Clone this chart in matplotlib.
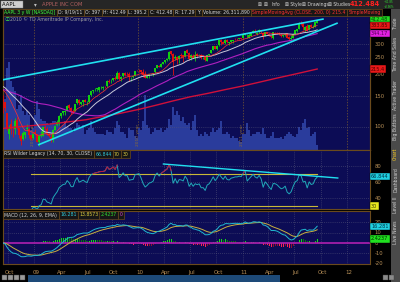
import matplotlib
matplotlib.use("Agg")
import matplotlib.pyplot as plt
import matplotlib.dates as mdates
import matplotlib.transforms as mtrans
import numpy as np
import pandas as pd

plt.rcParams['font.family'] = ['DejaVu Sans', 'Noto Sans CJK SC']

# ---------------- data (weekly bars, AAPL) ----------------
week_start = "2008-09-15"
# weekly closes before the first shown bar (used only by the moving averages)
prior_closes = [170.4, 184.7, 187.9, 165.4, 166.4, 171.5, 182.2, 194.3, 190.4, 193.9, 199.8,
                180.1, 172.7, 161.4, 130.0, 133.8, 125.5, 124.6, 119.5, 125.0, 122.3, 126.6, 133.3,
                143.0, 153.1, 147.1, 161.0, 169.7, 180.9, 183.5, 187.6, 181.2, 188.8, 185.6, 172.4,
                175.3, 170.1, 170.1, 172.6, 165.2, 162.1, 156.7, 169.6, 175.7, 176.8, 169.5, 160.2, 148.9]
opens = [142.0,139.9,119.6,91.6,104.6,99.8,96.7,109.3,98.6,88.5,85.2,90.4,97.3,97.5,90.0,86.5,
         93.2,90.5,81.5,89.0,89.1,100.0,97.0,91.7,88.1,84.7,96.4,102.7,104.5,114.9,120.2,121.7,123.1,133.3,128.6,123.2,
         124.0,136.5,143.8,136.0,139.0,143.5,138.5,139.5,153.3,160.2,164.5,165.0,163.5,170.0,168.2,172.5,171.0,184.0,
         183.0,186.0,190.0,189.0,205.0,188.0,196.7,204.5,201.0,201.0,194.0,195.0,197.0,211.0,
         213.4,212.8,206.0,202.5,192.4,195.7,201.6,202.4,205.8,219.5,225.4,220.5,231.6,235.0,242.0,247.0,272.0,263.0,
         250.3,254.0,247.0,259.5,258.0,255.0,277.0,266.9,250.0,255.0,248.0,262.0,260.0,258.0,248.0,251.0,241.0,259.0,
         265.0,278.0,293.0,281.0,295.0,318.0,309.0,303.0,317.0,305.0,310.0,313.0,321.0,321.0,322.0,323.0,
         325.6,338.0,325.0,326.0,335.0,347.0,357.0,342.0,351.0,361.0,348.0,335.0,350.0,344.0,334.0,326.0,352.0,349.0,
         349.0,339.0,332.0,339.0,345.0,328.0,319.0,327.0,344.0,356.0,366.0,397.0,398.0,361.0,379.0,363.0,388.0,372.0,
         378.0,397.0]
highs = [151.8,140.0,119.7,102.5,111.0,100.8,112.0,114.3,99.0,91.0,95.3,93.0,103.6,98.0,90.2,91.0,
         97.2,90.9,89.9,94.6,100.0,103.0,100.0,93.5,91.0,96.9,103.0,109.0,116.5,120.0,124.0,125.0,133.0,135.0,129.4,127.0,
         136.0,145.0,145.4,140.0,143.0,144.6,140.5,152.0,160.5,164.0,166.5,168.0,169.5,173.0,172.0,173.0,186.0,188.0,
         188.5,191.0,196.0,208.7,208.0,196.0,205.0,208.0,206.0,206.0,195.0,197.0,210.0,213.9,
         215.6,213.0,215.5,211.0,197.0,202.0,203.0,205.0,219.0,227.0,226.5,232.0,237.5,242.0,249.0,272.5,272.5,266.0,
         258.0,256.0,258.0,265.0,259.0,275.0,279.0,269.0,262.0,264.0,275.0,265.0,264.0,262.0,254.0,253.0,259.0,264.0,
         276.0,293.0,293.0,295.0,315.0,319.0,311.0,319.0,321.0,309.0,316.0,318.0,323.0,324.0,326.0,326.0,
         337.0,349.0,344.0,345.0,347.0,360.0,364.9,350.0,364.0,361.7,350.0,352.0,352.0,345.0,335.0,354.0,353.0,350.0,
         351.0,341.0,339.0,349.0,345.5,333.0,337.0,347.0,360.0,366.0,400.0,404.5,400.0,381.0,390.0,385.0,389.0,386.0,
         401.0,412.49]
lows = [120.7,123.0,96.0,85.0,91.5,87.0,91.3,97.0,86.3,79.1,84.0,86.0,95.0,86.8,84.6,84.9,
        89.6,82.0,78.2,87.0,88.6,96.0,89.6,87.0,82.3,82.3,95.5,101.0,102.0,113.0,117.0,117.6,122.8,126.0,119.0,121.0,
        123.0,136.0,134.0,134.0,132.0,139.0,134.0,137.0,151.0,157.0,161.0,160.0,159.0,166.0,164.0,167.0,170.5,179.0,
        178.0,183.0,186.0,188.5,186.0,185.0,195.0,196.0,196.0,185.0,185.0,190.0,196.0,209.0,
        206.0,203.0,195.0,191.3,190.0,190.3,198.5,197.0,205.5,218.5,221.0,220.0,230.0,234.5,240.0,242.0,260.0,199.3,
        244.0,230.0,234.0,248.0,235.0,254.0,265.0,243.0,243.0,248.0,239.0,252.0,259.0,247.0,245.0,240.0,240.0,256.0,
        265.0,278.0,281.0,277.0,294.0,298.0,299.0,302.0,304.0,298.0,306.0,305.0,318.0,318.0,319.0,321.0,
        324.0,337.0,325.0,326.0,334.0,347.0,347.0,338.0,348.0,345.0,320.0,332.0,343.0,334.0,326.0,320.0,345.0,343.0,
        339.0,330.0,330.0,335.0,325.0,315.0,318.0,326.0,344.0,354.0,366.0,385.0,360.0,353.0,356.0,362.0,374.0,370.0,
        375.0,395.2]
closes = [140.9,128.2,97.1,96.8,97.4,98.9,107.6,98.2,90.2,82.6,92.7,94.0,98.3,90.0,85.8,90.8,
          90.6,82.3,88.4,90.1,99.7,99.2,91.2,89.3,85.3,95.9,101.6,106.9,116.0,119.6,123.4,123.9,132.5,129.2,122.4,122.5,
          135.8,144.7,137.0,139.5,142.4,140.0,138.5,151.8,160.0,163.4,165.5,166.8,169.2,170.1,170.3,172.2,185.0,182.4,
          184.9,190.5,188.1,205.2,188.5,194.3,204.5,199.9,200.6,193.3,194.7,195.4,209.0,210.7,
          212.0,205.9,197.8,192.1,195.5,200.4,201.7,204.6,219.0,226.6,222.3,230.9,236.0,241.8,247.4,270.8,261.1,235.9,
          253.8,242.3,256.9,256.0,253.5,274.1,266.7,246.9,259.6,249.9,259.9,257.3,260.1,249.1,249.6,241.6,258.8,263.4,
          275.4,292.3,282.5,294.1,314.7,307.5,301.0,317.1,308.0,306.7,315.0,317.4,320.6,320.6,323.6,322.6,
          336.1,348.5,326.7,336.1,346.5,356.9,350.6,348.2,360.0,352.0,330.0,351.5,344.6,335.1,327.5,350.7,350.1,346.7,
          340.5,335.2,337.4,343.4,325.9,320.3,326.4,343.3,359.7,364.9,393.3,390.5,373.6,377.0,356.0,383.6,374.1,377.5,
          400.5,412.48]
volumes_m = [330,260,420,450,350,320,300,210,230,280,200,180,200,180,100,110,
             180,250,210,160,150,150,140,130,140,150,150,140,140,120,130,150,120,110,110,90,
             110,140,130,120,130,80,100,110,150,110,90,80,80,80,80,75,100,90,
             90,80,110,150,130,90,90,80,60,110,100,100,70,60,
             110,100,150,280,130,110,80,90,110,100,100,110,90,100,110,160,130,220,
             180,200,180,150,170,140,130,140,100,150,180,100,70,80,70,90,80,70,
             90,110,90,100,110,150,80,80,90,80,60,70,60,60,45,40,
             80,80,140,100,70,80,80,90,90,80,110,80,60,60,70,90,60,60,
             60,65,55,70,80,90,80,70,65,80,120,100,140,160,110,120,70,80,
             90,26]

# 200-period average line (monthly)
sma200_dates = ["2008-09-15", "2008-11-01", "2009-01-01", "2009-03-01", "2009-05-01", "2009-07-01",
                "2009-09-01", "2009-11-01", "2010-01-01", "2010-03-01", "2010-05-01", "2010-07-01",
                "2010-09-01", "2010-11-01", "2011-01-01", "2011-03-01", "2011-05-01", "2011-07-01",
                "2011-09-19"]
sma200_vals = [98, 100, 102, 104, 107, 110, 115, 120, 126, 133, 141, 149, 156, 164, 172, 181, 191, 201, 215.4]

date_ticks = ["2008-10-01", "2009-01-01", "2009-04-01", "2009-07-01", "2009-10-01", "2010-01-01",
              "2010-04-01", "2010-07-01", "2010-10-01", "2011-01-01", "2011-04-01", "2011-07-01",
              "2011-10-01", "2012-01-01"]
date_labels = ["Oct", "09", "Apr", "Jul", "Oct", "10", "Apr", "Jul", "Oct", "11", "Apr", "Jul", "Oct", "12"]
year_lines = ["2009-01-01", "2010-01-01", "2011-01-01", "2012-01-01"]
price_ticks = [100, 150, 200, 250, 300]
rsi_ticks = [40, 60, 80]
macd_ticks = [20, 10, 0, -10, -20]

# drawn trend lines (date, value)
upper_trend = [("2008-09-11", 186.4), ("2011-10-12", 418.0)]
lower_trend = [("2009-01-15", 78.8), ("2011-11-30", 396.5)]
rsi_trend = [("2010-03-30", 82.5), ("2011-11-30", 65.0)]

# values shown in the chart's readouts
last_close, sma10_last, sma50_last, sma200_last = 412.48, 383.85, 344.17, 215.4
rsi_last = 66.844
macd_value, macd_avg, macd_diff = 16.281, 13.8573, 2.4237

# ---------------- indicators ----------------
dates = pd.date_range(week_start, periods=len(closes), freq="W-MON")
x = mdates.date2num(dates)
n0 = len(prior_closes)
call = pd.Series(prior_closes + closes, dtype=float)
c = pd.Series(closes, dtype=float)
o = np.array(opens, float); h = np.array(highs, float); l = np.array(lows, float)
sma = {n: call.rolling(n, min_periods=1).mean().values[n0:] for n in (10, 20, 50)}

delta = c.diff()
gain = delta.clip(lower=0); loss = (-delta).clip(lower=0)
rsi = np.full(len(c), np.nan)
ag = gain[1:15].mean(); al = loss[1:15].mean()
rsi[14] = 100 - 100 / (1 + ag / al)
for i in range(15, len(c)):
    ag = (ag * 13 + gain[i]) / 14
    al = (al * 13 + loss[i]) / 14
    rsi[i] = 100 - 100 / (1 + ag / al)

ema12 = c.ewm(span=12, adjust=False).mean()
ema26 = c.ewm(span=26, adjust=False).mean()
macd = (ema12 - ema26).values
sig = pd.Series(macd).ewm(span=9, adjust=False).mean().values
diff = macd - sig

# ---------------- layout ----------------
W, H = 400, 282
fig = plt.figure(figsize=(4.0, 2.82), dpi=100, facecolor="#000000")

def add_ax(x0, y0, x1, y1, **kw):
    return fig.add_axes([x0 / W, 1 - y1 / H, (x1 - x0) / W, (y1 - y0) / H], **kw)

def ftext(px, py, s, **kw):
    return fig.text(px / W, 1 - py / H, s, **kw)

BG = "#0c0c55"
BORDER = "#6a4a1c"
TAN = "#b89058"
GRID = "#55557a"

d0 = mdates.date2num(pd.Timestamp("2009-01-01"))
ppd = 104.3 / 365.0
XL = (d0 - 31 / ppd, d0 + 336 / ppd)

def style(ax):
    ax.set_facecolor(BG)
    ax.set_xlim(*XL)
    ax.set_xticks([]); ax.set_yticks([])
    for s in ax.spines.values():
        s.set_color(BORDER); s.set_linewidth(0.8)

qx = mdates.date2num(pd.to_datetime(date_ticks))
yx = mdates.date2num(pd.to_datetime(year_lines))

# ---- price panel ----
axv = add_ax(3, 9, 370, 150)
style(axv)
axv.set_ylim(0, 720)
for q in yx:
    axv.axvline(q, color="#7a5a30", lw=0.5, ls=(0, (2, 2)), zorder=0)
axv.bar(x, volumes_m, width=7, color="#2a3c9c", zorder=1, linewidth=0)

axp = add_ax(3, 9, 370, 150)
style(axp)
axp.set_facecolor("none")
axp.set_yscale("log")
axp.set_ylim(73.7, 477)
axp.yaxis.set_minor_locator(matplotlib.ticker.NullLocator())
axp.yaxis.set_major_locator(matplotlib.ticker.NullLocator())
for p in price_ticks:
    axp.axhline(p, color=GRID, lw=0.5, ls=(0, (1, 2)), zorder=0)
for q, yr in zip(yx[:3], ["2009", "2010", "2011"]):
    axp.text(q - 2.5, 0.03, yr + " year", transform=mtrans.blended_transform_factory(axp.transData, axp.transAxes),
             rotation=90, fontsize=3.2, color="#8a6a38", ha="center", va="bottom", zorder=2)

up = c.values >= o
colr = np.where(up, "#10d010", "#e01010")
axp.vlines(x, l, h, colors=colr, lw=0.6, zorder=3)
axp.bar(x, np.abs(c.values - o), bottom=np.minimum(c.values, o), width=5.5, color=colr, zorder=3, linewidth=0)

axp.plot(mdates.date2num(pd.to_datetime(sma200_dates)), sma200_vals, color="#d0103a", lw=1.0, zorder=4)
axp.plot(x, sma[50], color="#b020c0", lw=0.8, zorder=4)
axp.plot(x, sma[20], color="#c8c8d8", lw=0.7, zorder=4)
axp.plot(x, sma[10], color="#ff3030", lw=0.5, zorder=4)

for tl in (upper_trend, lower_trend):
    tx = mdates.date2num(pd.to_datetime([tl[0][0], tl[1][0]]))
    axp.plot(tx, [tl[0][1], tl[1][1]], color="#20e0f0", lw=1.2, zorder=5, solid_capstyle="butt")

# ---- RSI panel ----
axr = add_ax(3, 150, 370, 209)
style(axr)
axr.set_ylim(26.25, 100)
for q in qx:
    axr.axvline(q, color=GRID, lw=0.5, ls=(0, (1, 2)), zorder=0)
for v in rsi_ticks:
    axr.axhline(v, color=GRID, lw=0.5, ls=(0, (1, 2)), zorder=0)
valid = ~np.isnan(rsi)
axr.plot([x[valid][0], x[-1]], [70, 70], color="#c8b838", lw=0.8, zorder=2)
axr.plot([x[valid][0], x[-1]], [30, 30], color="#c8b838", lw=0.8, zorder=2)
axr.plot(x, rsi, color="#20a8b8", lw=0.7, zorder=3)
hi = np.where(rsi >= 70, rsi, np.nan)
axr.plot(x, hi, color="#c01038", lw=0.7, zorder=4)
tx = mdates.date2num(pd.to_datetime([rsi_trend[0][0], rsi_trend[1][0]]))
axr.plot(tx, [rsi_trend[0][1], rsi_trend[1][1]], color="#20e0f0", lw=1.0, zorder=5)

# ---- MACD panel ----
axm = add_ax(3, 211, 370, 264)
style(axm)
axm.set_ylim(-20.4, 31.1)
for q in qx:
    axm.axvline(q, color=GRID, lw=0.5, ls=(0, (1, 2)), zorder=0)
for v in macd_ticks:
    if v != 0:
        axm.axhline(v, color=GRID, lw=0.5, ls=(0, (1, 2)), zorder=0)
prev = np.concatenate([[diff[0]], diff[:-1]])
hcol = np.where(diff >= 0, np.where(diff >= prev, "#10e010", "#0a7a0a"),
                np.where(diff < prev, "#ff2050", "#901030"))
axm.bar(x, diff, width=2.5, color=hcol, zorder=2, linewidth=0)
axm.axhline(0, color="#b020b0", lw=1.2, zorder=3)
axm.plot(x, sig, color="#c8b040", lw=0.7, zorder=4)
axm.plot(x, macd, color="#20b8d0", lw=0.7, zorder=5)

for q, lab in zip(qx, date_labels):
    axm.text(q + 6, -0.12, lab, transform=mtrans.blended_transform_factory(axm.transData, axm.transAxes),
             color=TAN, fontsize=4, ha="center", va="top", clip_on=False)

# ---- right axis labels ----
def rlabel(ax, v, s, color=TAN, box=None, tc="#000000"):
    tr = mtrans.blended_transform_factory(ax.transAxes, ax.transData)
    if box:
        ax.text(1.003, v, s, transform=tr, fontsize=3.6, color=tc, ha="left", va="center", clip_on=False,
                bbox=dict(boxstyle="square,pad=0.25", fc=box, ec="#000000", lw=0.3), zorder=10)
    else:
        ax.text(1.012, v, s, transform=tr, fontsize=3.8, color=color, ha="left", va="center", clip_on=False)

for p in price_ticks:
    rlabel(axp, p, str(p))
rlabel(axp, last_close, f"{last_close:.2f}", box="#22d822", tc="#004000")
rlabel(axp, sma10_last, f"{sma10_last:.2f}", box="#e81818", tc="#500000")
rlabel(axp, sma50_last, f"{sma50_last:.2f}", box="#e020e0", tc="#500050")
rlabel(axp, sma200_last, f"{sma200_last:.1f}", box="#e81818", tc="#500000")
for v in [80, 60, 40]:
    rlabel(axr, v, str(v))
rlabel(axr, rsi_last, f"{rsi_last:.3f}", box="#20d0e0", tc="#003040")
rlabel(axr, 30, "30", box="#e8e820", tc="#404000")
for v in macd_ticks:
    rlabel(axm, v, str(v))
rlabel(axm, macd_value, f"{macd_value:.3f}", box="#20d0e0", tc="#003040")
rlabel(axm, macd_diff + 1.5, f"{macd_diff:.4f}", box="#20e020", tc="#003000")

# ---- header boxes ----
renderer = fig.canvas.get_renderer()

def header(px, py, items, fs=3.3, gap=2.6):
    cur = px
    for s, col in items:
        t = ftext(cur, py, s, fontsize=fs, color=col, ha="left", va="center",
                  bbox=dict(boxstyle="square,pad=0.3", fc="#161616", ec=BORDER, lw=0.5), zorder=20)
        bb = t.get_window_extent(renderer)
        cur += bb.width + gap
    return cur

WT = "#d8d8d8"
header(4.5, 12.5, [("AAPL 3 y W [NASDAQ]", "#40ff40"), ("D: 9/19/11", WT), ("O: 397", WT), ("H: 412.49", WT),
                   ("L: 395.2", WT), ("C: 412.48", WT), ("R: 17.29", WT), ("Y:", WT),
                   ("Volume: 26,311,890", WT), ("SimpleMovingAvg (CLOSE, 200, 0) 215.4", "#ff3030"),
                   ("SimpleMoving", "#ff3030")])
ftext(4.5, 19.5, "\u24d8", fontsize=3.8, color="#40e040", ha="left", va="center")
ftext(9.5, 19.5, "2010 \u00a9 TD Ameritrade IP Company, Inc.", fontsize=3.3, color="#a0a0a0", ha="left", va="center")

header(4.5, 154, [("RSI Wilder Legacy (14, 70, 30, CLOSE)", WT), (f"{rsi_last:.3f}", "#30c8d8"),
                  ("70", "#e0d040"), ("30", "#e0d040")])
header(4.5, 215, [("MACD (12, 26, 9, EMA)", WT), (f"{macd_value:.3f}", "#30c8d8"),
                  (f"{macd_avg:.4f}", "#e0d040"), (f"{macd_diff:.4f}", "#30e030"), ("0", "#e040e0")])

# ---- top toolbar ----
fig.patches.append(plt.Rectangle((0, 1 - 8.5 / H), 1, 8.5 / H, transform=fig.transFigure, fc="#262626", ec="none", zorder=0))
ftext(2, 4.3, "AAPL    ", fontsize=3.8, color="#000000", ha="left", va="center",
      bbox=dict(boxstyle="square,pad=0.2", fc="#d0d0d0", ec="#808080", lw=0.3))
ftext(34, 4.3, "\u25be", fontsize=4, color="#c0c0c0", ha="left", va="center")
ftext(42, 4.3, "APPLE INC COM", fontsize=3.8, color="#b06060", ha="left", va="center")
for xx, s in [(258, "\u22a0"), (264, "\u22a0"), (271, "Info"), (285, "\u22a0 Style"), (302, "\u22a0 Drawings"), (328, "\u22a0 Studies")]:
    ftext(xx, 4.3, s, fontsize=3.3, color="#d0d0d0", ha="left", va="center")
ftext(350, 4.5, "412.484", fontsize=4.8, color="#ff2020", ha="left", va="center", fontweight="bold")
ftext(384, 2.0, "+11.85", fontsize=1.9, color="#30e030", ha="left", va="center")
ftext(384, 6.6, "+2.96%", fontsize=1.9, color="#30e030", ha="left", va="center")

# ---- right sidebar ----
fig.patches.append(plt.Rectangle((391 / W, 0), 9 / W, 1 - 9 / H, transform=fig.transFigure, fc="#4a4a4a", ec="none", zorder=0))
for yy, s, col in [(24, "Trade", "#d0d0d0"), (54, "Time And Sales", "#d0d0d0"), (95, "Active Trader", "#d0d0d0"),
                   (127, "Big Buttons", "#d0d0d0"), (154, "Chart", "#ffd020"), (180, "Dashboard", "#d0d0d0"),
                   (205, "Level II", "#d0d0d0"), (232, "Live News", "#d0d0d0")]:
    ftext(395.5, yy, s, fontsize=3.3, color=col, rotation=90, ha="center", va="center")

# ---- bottom bar ----
fig.patches.append(plt.Rectangle((28 / W, 0), 252 / W, 7 / H, transform=fig.transFigure, fc="#1d4a78", ec="none", zorder=0))
for xx in [2, 8, 14, 20]:
    fig.patches.append(plt.Rectangle((xx / W, 2 / H), 5 / W, 5 / H, transform=fig.transFigure, fc="#9a9a9a", ec="#404040", lw=0.3))
for xx in [383, 389]:
    fig.patches.append(plt.Rectangle((xx / W, 2 / H), 5 / W, 5 / H, transform=fig.transFigure, fc="#8a8a8a", ec="#404040", lw=0.3))

fig.savefig("out.png", dpi=100, facecolor=fig.get_facecolor())
